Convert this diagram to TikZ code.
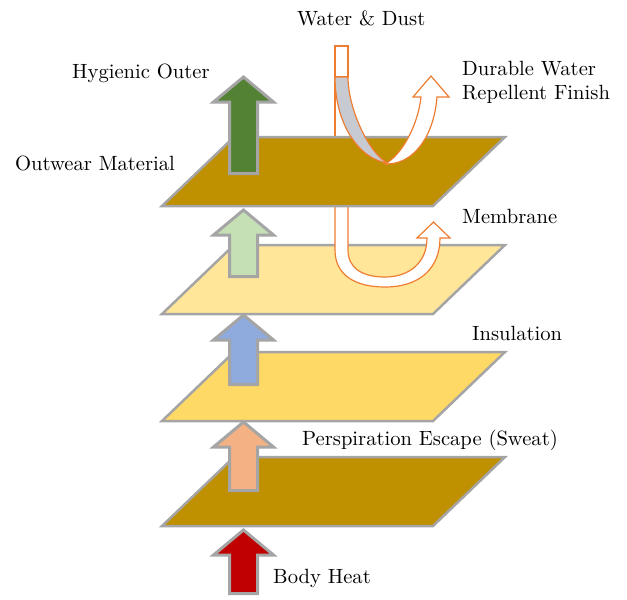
\documentclass[tikz,border=0pt]{standalone}
\usepackage{tikz}
\usetikzlibrary{positioning}
\usepackage{fontspec}
\newfontfamily\lblfont{lmroman10-regular.otf}
\definecolor{layerbrown}{HTML}{BF9000}
\definecolor{layerpale}{HTML}{FFE699}
\definecolor{layeryellow}{HTML}{FFD966}
\definecolor{edgegray}{HTML}{A5A5A5}
\definecolor{outergreen}{HTML}{548235}
\definecolor{membgreen}{HTML}{C5E0B4}
\definecolor{insblue}{HTML}{8FAADC}
\definecolor{sweatpeach}{HTML}{F4B183}
\definecolor{heatred}{HTML}{C00000}
\definecolor{dropline}{HTML}{ED7D31}
\definecolor{dropgray}{HTML}{C8CAD2}
\tikzset{
  layer/.style={draw=edgegray, line width=2.5pt, line join=miter},
  uparrow/.style={draw=edgegray, line width=3pt, line join=miter},
  drop/.style={draw=dropline, line width=1.2pt, fill=white},
  lbl/.style={font=\lblfont\fontsize{20.6}{25}\selectfont, inner sep=0pt, anchor=base west}
}
% one fabric layer: top edge y, fill
\newcommand{\layerplane}[2]{%
  \filldraw[layer, fill=#2] (162,#1+69) -- (234,#1) -- (505,#1) -- (433,#1+69) -- cycle;}
% block arrow: tip y, bottom y, fill
\newcommand{\uparrowat}[3]{%
  \filldraw[uparrow, fill=#3] (229.5,#2) -- (229.5,#1+25) -- (213.5,#1+25) -- (243.5,#1)
    -- (273.5,#1+25) -- (257.5,#1+25) -- (257.5,#2) -- cycle;}

\begin{document}
\begin{tikzpicture}[x=1pt, y=-1pt]
  \useasboundingbox (0,0) rectangle (627,600);

  % layers below the outwear
  \layerplane{245}{layerpale}
  \layerplane{352}{layeryellow}
  \layerplane{457}{layerbrown}

  % water turned back by the membrane
  \filldraw[drop] (335,195) -- (335,250) .. controls (335,275) and (355,287) .. (385,287)
    .. controls (420,287) and (440,268) .. (440,238) -- (450,238) -- (433.5,222) -- (417,238)
    -- (427,238) .. controls (427,262) and (410,277) .. (385,277)
    .. controls (362,277) and (348,268) .. (348,250) -- (348,195) -- cycle;

  % incoming water tube
  \filldraw[drop] (335,46) rectangle (348,77);
  \draw[drop] (335,77) -- (335,150);

  % outwear layer
  \layerplane{137}{layerbrown}

  % heat and vapour arrows
  \uparrowat{77}{173.5}{outergreen}
  \uparrowat{210}{276.5}{membgreen}
  \uparrowat{315}{384.5}{insblue}
  \uparrowat{422}{490.5}{sweatpeach}
  \uparrowat{530}{593.5}{heatred}

  % water bounced off the DWR finish
  \filldraw[drop, fill=dropgray] (335,77) -- (348,77) .. controls (348,110) and (370,155) .. (388,163)
    .. controls (360,160) and (335,125) .. (335,77) -- cycle;
  \filldraw[drop] (385,164) .. controls (402,155) and (418,125) .. (421,97) -- (413,97) -- (431,76)
    -- (449,97) -- (437,97) .. controls (434,135) and (415,163) .. (388,164) -- cycle;

  % labels
  \node[lbl] (water) at (297,25) {Water \& Dust};
  \node[lbl] (hygienic) at (72,78) {Hygienic Outer};
  \node[lbl] (outwear) at (15,170) {Outwear Material};
  \node[lbl] (dwr) at (462,75) {Durable Water};
  \node[lbl] (dwrb) at (462,99) {Repellent Finish};
  \node[lbl] (membrane) at (462,223) {Membrane};
  \node[lbl] (insulation) at (472,340) {Insulation};
  \node[lbl] (sweat) at (302,445) {Perspiration Escape (Sweat)};
  \node[lbl] (heat) at (273,583) {Body Heat};
\end{tikzpicture}
\end{document}
